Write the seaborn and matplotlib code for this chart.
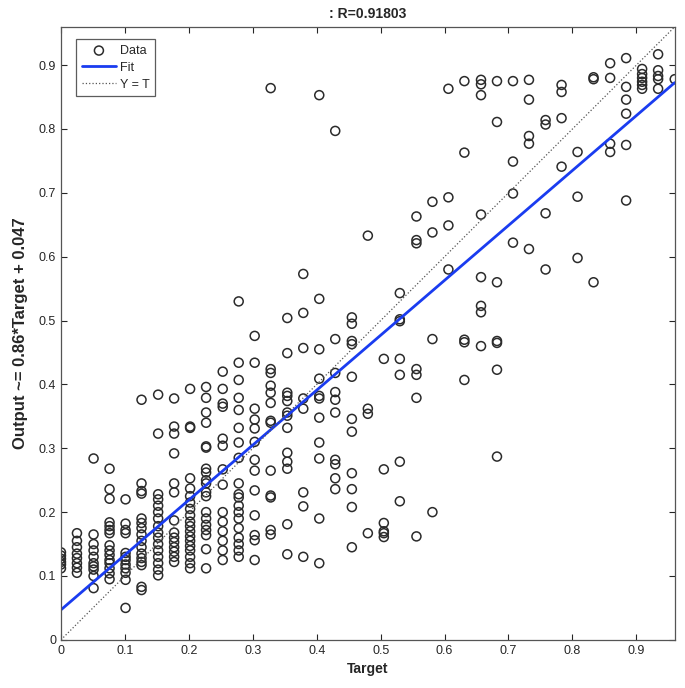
import numpy as np
import pandas as pd
import matplotlib
matplotlib.use("Agg")
import matplotlib.pyplot as plt
import seaborn as sns

# Target levels (discrete) and the network outputs observed at each level
target_levels = [0.000, 0.025, 0.051, 0.076, 0.101, 0.126, 0.152, 0.177, 0.202, 0.227,
                 0.253, 0.278, 0.303, 0.328, 0.354, 0.379, 0.404, 0.429, 0.455, 0.480,
                 0.505, 0.530, 0.556, 0.581, 0.606, 0.631, 0.657, 0.682, 0.707, 0.732,
                 0.758, 0.783, 0.808, 0.833, 0.859, 0.884, 0.909, 0.934, 0.960]

outputs_by_level = [
    [0.112, 0.118, 0.122, 0.127, 0.132, 0.137],
    [0.167, 0.155, 0.145, 0.135, 0.128, 0.12, 0.113, 0.105],
    [0.284, 0.165, 0.15, 0.14, 0.13, 0.12, 0.115, 0.11, 0.1, 0.081],
    [0.268, 0.236, 0.221, 0.184, 0.178, 0.172, 0.167, 0.148, 0.14, 0.133, 0.125, 0.12, 0.112, 0.104, 0.095],
    [0.22, 0.182, 0.172, 0.167, 0.136, 0.13, 0.125, 0.118, 0.112, 0.105, 0.094, 0.05],
    [0.376, 0.245, 0.233, 0.229, 0.19, 0.183, 0.175, 0.165, 0.155, 0.145, 0.135, 0.128, 0.122, 0.117, 0.083, 0.078],
    [0.384, 0.323, 0.228, 0.22, 0.21, 0.2, 0.19, 0.178, 0.168, 0.16, 0.15, 0.14, 0.13, 0.12, 0.11, 0.101],
    [0.378, 0.334, 0.323, 0.292, 0.245, 0.231, 0.187, 0.168, 0.16, 0.153, 0.145, 0.138, 0.13, 0.122],
    [0.393, 0.334, 0.332, 0.253, 0.237, 0.225, 0.215, 0.205, 0.195, 0.185, 0.178, 0.17, 0.162, 0.155,
     0.147, 0.14, 0.13, 0.12, 0.112],
    [0.396, 0.379, 0.356, 0.34, 0.303, 0.301, 0.268, 0.262, 0.25, 0.245, 0.231, 0.225, 0.2, 0.19, 0.18,
     0.172, 0.164, 0.142, 0.112],
    [0.42, 0.393, 0.37, 0.365, 0.315, 0.304, 0.267, 0.243, 0.2, 0.185, 0.17, 0.155, 0.14, 0.125],
    [0.53, 0.434, 0.407, 0.379, 0.36, 0.332, 0.309, 0.285, 0.245, 0.228, 0.223, 0.21, 0.2, 0.19, 0.175,
     0.16, 0.15, 0.14, 0.13],
    [0.476, 0.434, 0.362, 0.345, 0.331, 0.31, 0.282, 0.265, 0.234, 0.195, 0.164, 0.156, 0.125],
    [0.864, 0.424, 0.418, 0.398, 0.387, 0.371, 0.343, 0.34, 0.265, 0.226, 0.223, 0.172, 0.165],
    [0.504, 0.449, 0.387, 0.382, 0.374, 0.356, 0.351, 0.332, 0.293, 0.279, 0.268, 0.181, 0.134],
    [0.573, 0.512, 0.457, 0.378, 0.362, 0.231, 0.209, 0.13],
    [0.853, 0.534, 0.455, 0.409, 0.382, 0.378, 0.348, 0.309, 0.284, 0.19, 0.12],
    [0.797, 0.471, 0.418, 0.388, 0.376, 0.356, 0.282, 0.275, 0.253, 0.236],
    [0.505, 0.495, 0.468, 0.463, 0.412, 0.346, 0.326, 0.261, 0.236, 0.208, 0.145],
    [0.633, 0.362, 0.354, 0.167],
    [0.44, 0.267, 0.183, 0.17, 0.167, 0.161],
    [0.543, 0.502, 0.499, 0.44, 0.415, 0.279, 0.217],
    [0.663, 0.626, 0.621, 0.424, 0.415, 0.379, 0.162],
    [0.686, 0.638, 0.471, 0.2],
    [0.863, 0.693, 0.649, 0.58],
    [0.875, 0.763, 0.47, 0.466, 0.407],
    [0.877, 0.87, 0.853, 0.666, 0.568, 0.523, 0.513, 0.46],
    [0.875, 0.811, 0.56, 0.468, 0.465, 0.423, 0.287],
    [0.875, 0.749, 0.699, 0.622],
    [0.877, 0.846, 0.789, 0.777, 0.612],
    [0.814, 0.807, 0.668, 0.58],
    [0.869, 0.858, 0.817, 0.741],
    [0.764, 0.694, 0.598],
    [0.881, 0.878, 0.56],
    [0.903, 0.88, 0.777, 0.764],
    [0.911, 0.866, 0.846, 0.824, 0.775, 0.688],
    [0.894, 0.886, 0.88, 0.874, 0.869, 0.863],
    [0.917, 0.892, 0.883, 0.878, 0.863],
    [0.878],
]

fit_slope = 0.86
fit_intercept = 0.047
r_value = 0.91803
axis_lim = [0, 0.96]
ticks = [0, 0.1, 0.2, 0.3, 0.4, 0.5, 0.6, 0.7, 0.8, 0.9]

# flatten to long form
rows = []
for t, outs in zip(target_levels, outputs_by_level):
    for o in outs:
        rows.append({'Target': t, 'Output': o})
df = pd.DataFrame(rows)

lines = pd.DataFrame({'Target': axis_lim})
lines['Fit'] = fit_slope * lines['Target'] + fit_intercept
lines['YT'] = lines['Target']

sns.set_style('ticks')
plt.rcParams['font.family'] = ['Liberation Sans', 'DejaVu Sans']

fig = plt.figure(figsize=(6.85, 6.88), dpi=100)
ax = fig.add_axes([0.089, 0.07, 0.896, 0.891])

sns.scatterplot(data=df, x='Target', y='Output', ax=ax, marker='o', s=42,
                facecolors='none', edgecolor='#2b2b2b', linewidth=1.1, label='Data')
sns.lineplot(data=lines, x='Target', y='Fit', ax=ax, color='#1a3cf0', linewidth=2.0, label='Fit')
sns.lineplot(data=lines, x='Target', y='YT', ax=ax, color='#555555', linewidth=0.9,
             linestyle=':', label='Y = T')

ax.set_xlim(axis_lim)
ax.set_ylim(axis_lim)
ax.set_xticks(ticks)
ax.set_yticks(ticks)
ax.set_xticklabels([f'{v:g}' for v in ticks])
ax.set_yticklabels([f'{v:g}' for v in ticks])
ax.tick_params(direction='in', length=4, width=0.8, colors='#262626', labelsize=9,
               top=True, right=True)
for s in ax.spines.values():
    s.set_color('#555555')
    s.set_linewidth(0.9)

ax.set_title(f': R={r_value}', fontsize=10, fontweight='bold', pad=6)
ax.set_xlabel('Target', fontsize=10, fontweight='bold', labelpad=4)
ax.set_ylabel(f'Output ~= {fit_slope}*Target + {fit_intercept}', fontsize=12,
              fontweight='bold', labelpad=8)

leg = ax.legend(loc='upper left', bbox_to_anchor=(0.015, 0.99), fontsize=9,
                frameon=True, fancybox=False, edgecolor='#333333', handlelength=2.7,
                borderpad=0.45, labelspacing=0.4, handletextpad=0.3)
leg.get_frame().set_linewidth(0.9)

fig.savefig('out.png', dpi=100)
